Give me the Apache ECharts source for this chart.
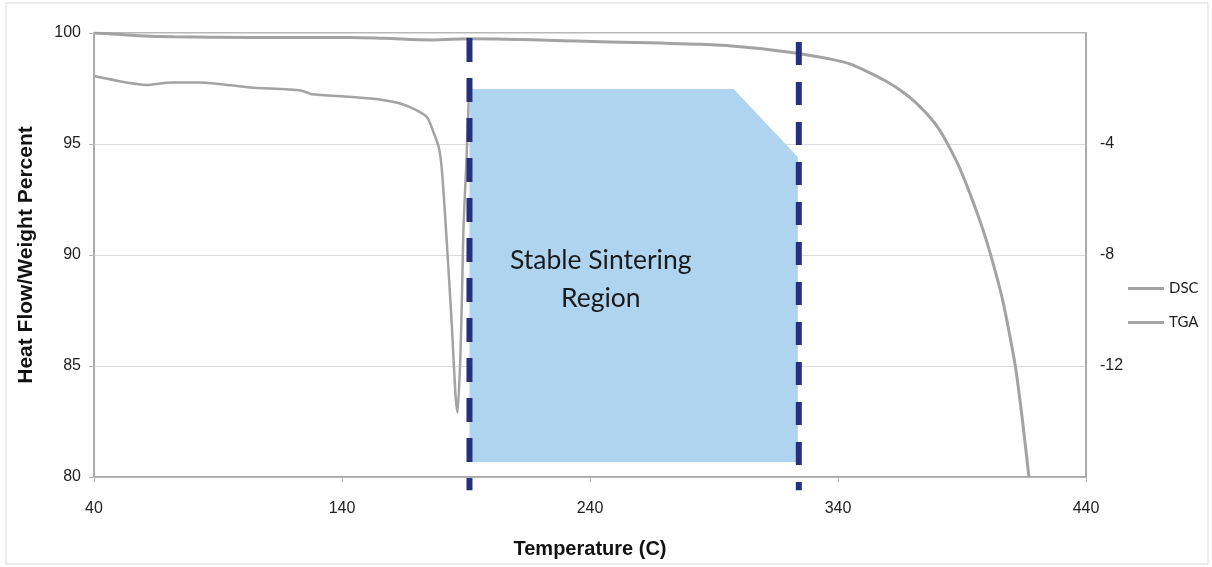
<!DOCTYPE html>
<html>
<head>
<meta charset="utf-8">
<script src="https://cdn.jsdelivr.net/npm/echarts@6/dist/echarts.min.js"></script>
<style>
  html, body { margin: 0; padding: 0; background: #fff; }
  #main { width: 1212px; height: 567px; }
</style>
</head>
<body>
<div id="main"></div>
<script>
// 数据
var xTicks = [40, 140, 240, 340, 440];
var leftTicks = [80, 85, 90, 95, 100];
var rightTicks = [-16, -12, -8, -4, 0];

// TGA weight percent, [temperature, %]
var tgaData = [
  [40, 100], [46, 99.97], [58, 99.88], [72, 99.83], [104, 99.8], [143, 99.8],
  [157, 99.76], [177, 99.69], [191, 99.74], [244, 99.61], [285, 99.49],
  [305, 99.34], [324, 99.08], [338, 98.8], [345, 98.6], [352, 98.25],
  [358.5, 97.88], [365, 97.43], [372, 96.8], [378.6, 96.0], [383, 95.25],
  [388.3, 94.1], [392.4, 93.0], [396.4, 91.8], [399, 90.95], [401.7, 89.95],
  [405.7, 88.3], [408, 87.1], [411.5, 85.0], [414, 82.9], [417, 80]
];

// DSC heat flow (right axis), [temperature, value]
var dscData = [
  [40, -1.55], [61, -1.87], [71, -1.78], [83, -1.78], [103, -1.96], [123, -2.06],
  [128, -2.21], [143, -2.3], [157, -2.42], [163.5, -2.54], [170, -2.78],
  [174.5, -3.06], [177, -3.6], [179, -4.11], [180.3, -4.96], [182.3, -7.6],
  [184.3, -10.56], [185.7, -12.96], [186.6, -13.68], [187.7, -11.76],
  [188.4, -9.36], [189, -6.96], [190.2, -4.56], [191.1, -2.52], [192, -2.08]
];

// sintering window
var regionTop = [[191.4, 97.48], [297.9, 97.48], [323.8, 94.41]];
var regionBase = 80.68;
var leftLimit = [[191.4, 99.77], [191.4, 79.4]];
var rightLimit = [[324.2, 99.6], [324.2, 79.4]];
var regionLabel = 'Stable Sintering\nRegion';

var myChart = echarts.init(document.getElementById('main'));

var gray = '#a3a3a3';
var navy = '#25317f';

var option = {
  animation: false,
  graphic: [
    { type: 'rect', shape: { x: 6, y: 3, width: 1202, height: 561 },
      style: { fill: 'none', stroke: '#d9d9d9', lineWidth: 1 }, silent: true },
    { type: 'text', left: 510, top: 241, z: 100,
      style: { text: regionLabel, font: '26.5px Lato', fill: '#1a1a1a', textAlign: 'center', lineHeight: 38 } }
  ],
  grid: {
    left: 94, right: 126, top: 33, bottom: 90,
    show: true, borderColor: '#a0a0a0', borderWidth: 1.5
  },
  legend: {
    data: ['DSC', 'TGA'],
    orient: 'vertical',
    left: 1123, top: 276,
    icon: 'rect', itemWidth: 36, itemHeight: 3, itemGap: 19,
    textStyle: { fontFamily: 'Lato', fontSize: 15, color: '#222' }
  },
  xAxis: {
    type: 'value', min: xTicks[0], max: xTicks[xTicks.length - 1], interval: 100,
    name: 'Temperature (C)', nameLocation: 'middle', nameGap: 62,
    nameTextStyle: { fontFamily: 'Liberation Sans', fontWeight: 'bold', fontSize: 20, color: '#111' },
    axisLine: { onZero: false, lineStyle: { color: '#a6a6a6', width: 1.5 } },
    axisTick: { show: true, length: 5, lineStyle: { color: '#bbb' } },
    axisLabel: { margin: 24, fontFamily: 'Liberation Sans', fontSize: 16, color: '#222' },
    splitLine: { show: false }
  },
  yAxis: [
    {
      type: 'value', min: leftTicks[0], max: leftTicks[leftTicks.length - 1], interval: 5,
      name: 'Heat Flow/Weight Percent', nameLocation: 'middle', nameGap: 57, nameRotate: 90,
      nameTextStyle: { fontFamily: 'Liberation Sans', fontWeight: 'bold', fontSize: 21, color: '#111' },
      axisLine: { show: true, lineStyle: { color: '#a6a6a6', width: 1.5 } },
      axisTick: { show: true, length: 5, lineStyle: { color: '#bbb' } },
      axisLabel: { margin: 13, fontFamily: 'Liberation Sans', fontSize: 16, color: '#222' },
      splitLine: { lineStyle: { color: '#dcdcdc', width: 1 } }
    },
    {
      type: 'value', min: rightTicks[0], max: rightTicks[rightTicks.length - 1], interval: 4,
      position: 'right',
      axisLine: { show: true, lineStyle: { color: '#a6a6a6', width: 1.5 } },
      axisTick: { show: false },
      axisLabel: {
        margin: 14, fontFamily: 'Liberation Sans', fontSize: 16, color: '#222',
        formatter: function (v) { return (v === 0 || v === -16) ? '' : v; }
      },
      splitLine: { show: false }
    }
  ],
  series: [
    {
      name: 'TGA', type: 'line', data: tgaData, yAxisIndex: 0,
      showSymbol: false, smooth: 0.3, color: gray,
      lineStyle: { color: gray, width: 3 }, z: 2
    },
    {
      name: 'DSC', type: 'line', data: dscData, yAxisIndex: 1,
      showSymbol: false, smooth: 0.2, color: gray,
      lineStyle: { color: gray, width: 2.5 }, z: 2
    },
    {
      name: 'region', type: 'line', data: regionTop, yAxisIndex: 0,
      showSymbol: false, lineStyle: { width: 0 },
      areaStyle: { color: '#aed4f0', opacity: 1, origin: regionBase }, z: 3
    },
    {
      name: 'limit1', type: 'line', data: leftLimit, clip: false,
      showSymbol: false, z: 4,
      lineStyle: { color: navy, width: 6, type: [24, 16], cap: 'butt' }
    },
    {
      name: 'limit2', type: 'line', data: rightLimit, clip: false,
      showSymbol: false, z: 4,
      lineStyle: { color: navy, width: 6, type: [23, 17], cap: 'butt' }
    }
  ]
};

myChart.setOption(option);
</script>
</body>
</html>
